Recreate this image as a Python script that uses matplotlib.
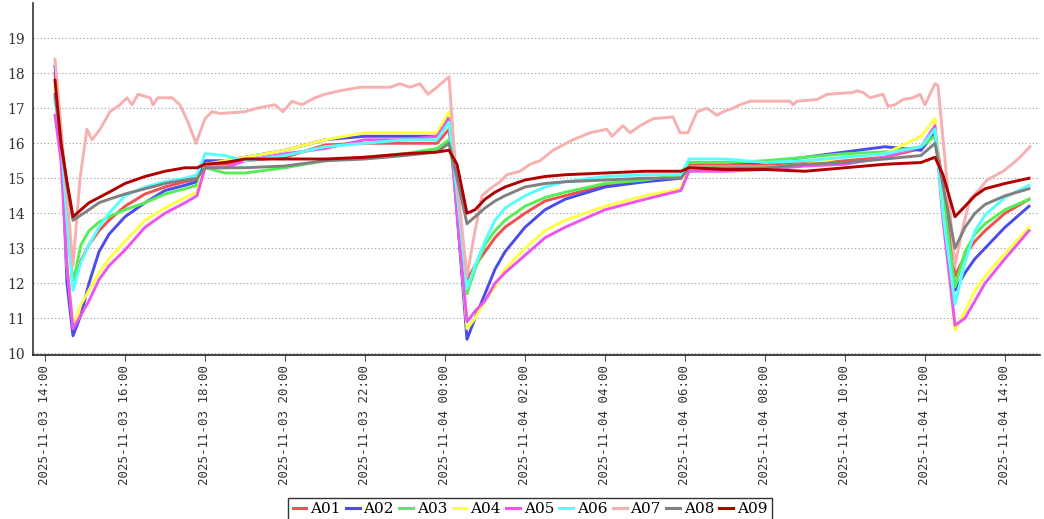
import matplotlib
matplotlib.use('Agg')
import matplotlib.pyplot as plt
import matplotlib.dates as mdates
import pandas as pd

# 시간축 (2025-11-03 14:00 기준, 시간 단위)
start = pd.Timestamp('2025-11-03 14:00')
hours = [0.25, 0.4, 0.55, 0.7, 0.9, 1.1, 1.35, 1.6, 2.0, 2.5, 3.0, 3.5, 3.8, 4.0,
         4.5, 5.0, 6.0, 7.0, 8.0, 9.0, 9.8, 10.1, 10.3, 10.55,
         10.75, 11.0, 11.25, 11.5, 12.0, 12.5, 13.0, 14.0, 15.0, 15.9, 16.1,
         17.0, 18.0, 19.0, 20.0, 21.0, 21.9, 22.25, 22.45, 22.75,
         23.0, 23.25, 23.5, 24.0, 24.6]

A01 = [18.0, 16.0, 13.8, 11.9, 12.65, 13.1, 13.5, 13.8, 14.2, 14.55, 14.75, 14.9, 14.97, 15.4,
       15.4, 15.5, 15.6, 15.95, 16.0, 16.0, 16.0, 16.4, 14.5, 12.1,
       12.5, 12.9, 13.3, 13.6, 14.0, 14.35, 14.5, 14.8, 14.95, 15.05, 15.4,
       15.4, 15.4, 15.45, 15.5, 15.6, 15.85, 16.3, 14.8, 12.2,
       12.8, 13.2, 13.5, 14.0, 14.4]
A02 = [18.2, 16.3, 12.0, 10.5, 11.1, 12.0, 12.9, 13.4, 13.9, 14.3, 14.65, 14.8, 14.9, 15.5,
       15.5, 15.6, 15.8, 16.1, 16.2, 16.2, 16.2, 16.8, 14.0, 10.4,
       11.0, 11.7, 12.4, 12.9, 13.6, 14.1, 14.4, 14.75, 14.9, 15.0, 15.45,
       15.45, 15.45, 15.6, 15.75, 15.9, 15.8, 16.3, 14.5, 11.8,
       12.3, 12.7, 13.0, 13.6, 14.2]
A03 = [17.3, 16.2, 14.0, 12.0, 13.1, 13.5, 13.75, 13.9, 14.1, 14.3, 14.55, 14.7, 14.8, 15.3,
       15.15, 15.15, 15.3, 15.5, 15.6, 15.7, 15.85, 16.1, 14.5, 11.7,
       12.4, 13.1, 13.5, 13.8, 14.2, 14.45, 14.6, 14.85, 14.95, 15.1, 15.45,
       15.45, 15.5, 15.6, 15.7, 15.75, 15.9, 16.2, 14.5, 11.9,
       12.9, 13.4, 13.7, 14.1, 14.4]
A04 = [17.6, 16.0, 12.5, 10.8, 11.4, 11.8, 12.3, 12.7, 13.2, 13.8, 14.15, 14.45, 14.6, 15.4,
       15.5, 15.6, 15.8, 16.1, 16.3, 16.3, 16.3, 16.9, 14.2, 10.7,
       11.0, 11.5, 11.9, 12.4, 13.0, 13.5, 13.8, 14.2, 14.5, 14.7, 15.3,
       15.3, 15.3, 15.4, 15.6, 15.7, 16.2, 16.7, 14.0, 10.65,
       11.2, 11.8, 12.2, 12.85, 13.6]
A05 = [16.8, 15.5, 12.5, 10.7, 11.1, 11.5, 12.1, 12.5, 12.95, 13.6, 14.0, 14.3, 14.5, 15.3,
       15.3, 15.5, 15.7, 15.85, 16.1, 16.1, 16.2, 16.7, 14.0, 10.9,
       11.2, 11.5, 12.0, 12.3, 12.8, 13.3, 13.6, 14.1, 14.4, 14.65, 15.2,
       15.2, 15.25, 15.35, 15.4, 15.6, 15.9, 16.5, 13.8, 10.8,
       11.0, 11.5, 12.0, 12.7, 13.5]
A06 = [17.2, 16.2, 13.8, 11.8, 12.6, 13.1, 13.6, 14.0, 14.5, 14.75, 14.9, 15.0, 15.1, 15.7,
       15.65, 15.5, 15.65, 15.9, 16.0, 16.1, 16.1, 16.6, 14.6, 11.85,
       12.5, 13.2, 13.8, 14.15, 14.5, 14.75, 14.9, 15.05, 15.1, 15.1, 15.55,
       15.55, 15.45, 15.5, 15.6, 15.7, 15.9, 16.4, 14.0, 11.4,
       12.6, 13.5, 13.95, 14.45, 14.8]
A08 = [17.4, 16.0, 14.8, 13.8, 13.95, 14.1, 14.3, 14.4, 14.55, 14.7, 14.85, 14.95, 15.0, 15.3,
       15.3, 15.3, 15.35, 15.5, 15.55, 15.65, 15.75, 16.0, 15.0, 13.7,
       13.9, 14.15, 14.35, 14.5, 14.75, 14.85, 14.9, 14.95, 15.0, 15.0, 15.3,
       15.3, 15.3, 15.4, 15.45, 15.55, 15.65, 16.0, 14.8, 13.0,
       13.6, 14.0, 14.25, 14.5, 14.7]
A09 = [17.8, 16.0, 14.9, 13.9, 14.1, 14.3, 14.45, 14.6, 14.85, 15.05, 15.2, 15.3, 15.3, 15.4,
       15.45, 15.55, 15.55, 15.55, 15.6, 15.7, 15.75, 15.8, 15.4, 14.0,
       14.1, 14.4, 14.6, 14.75, 14.95, 15.05, 15.1, 15.15, 15.2, 15.2, 15.3,
       15.25, 15.25, 15.2, 15.3, 15.4, 15.45, 15.6, 15.1, 13.9,
       14.2, 14.5, 14.7, 14.85, 15.0]

# A07은 변동이 많아서 따로
hours_A07 = [0.25, 0.475, 0.7, 0.875, 1.05, 1.175, 1.375, 1.625, 1.875, 2.05, 2.175, 2.325,
             2.625, 2.7, 2.825, 3.175, 3.375, 3.575, 3.775, 4.0, 4.175, 4.375, 5.0, 5.3,
             5.75, 5.95, 6.175, 6.425, 6.75, 7.0, 7.375, 7.875, 8.625, 8.875, 9.125, 9.375,
             9.575, 9.8, 10.1, 10.25, 10.55, 10.75, 10.925, 11.125, 11.375, 11.55, 11.875,
             12.125, 12.375, 12.7, 13.2, 13.625, 14.05, 14.175, 14.45, 14.625, 14.875, 15.2,
             15.7, 15.875, 16.075, 16.3, 16.55, 16.8, 16.95, 17.2, 17.375, 17.625, 18.625,
             18.7, 18.8, 19.3, 19.55, 20.2, 20.3, 20.45, 20.625, 20.95, 21.075, 21.25, 21.45,
             21.7, 21.875, 22.0, 22.25, 22.325, 22.75, 22.925, 23.125, 23.375, 23.55, 23.95,
             24.175, 24.375, 24.625]
A07 = [18.4, 15.5, 12.5, 15.0, 16.4, 16.1, 16.4, 16.9, 17.1, 17.3, 17.1, 17.4,
       17.3, 17.1, 17.3, 17.3, 17.1, 16.6, 16.0, 16.7, 16.9, 16.85, 16.9, 17.0,
       17.1, 16.9, 17.2, 17.1, 17.3, 17.4, 17.5, 17.6, 17.6, 17.7, 17.6, 17.7,
       17.4, 17.6, 17.9, 15.5, 12.2, 13.5, 14.5, 14.7, 14.9, 15.1, 15.2,
       15.4, 15.5, 15.8, 16.1, 16.3, 16.4, 16.2, 16.5, 16.3, 16.5, 16.7,
       16.75, 16.3, 16.3, 16.9, 17.0, 16.8, 16.9, 17.0, 17.1, 17.2, 17.2,
       17.1, 17.2, 17.25, 17.4, 17.45, 17.5, 17.45, 17.3, 17.4, 17.05, 17.1, 17.25,
       17.3, 17.4, 17.1, 17.7, 17.65, 12.5, 13.5, 14.4, 14.7, 14.95, 15.2,
       15.4, 15.6, 15.9]

names = ['A01', 'A02', 'A03', 'A04', 'A05', 'A06', 'A07', 'A08', 'A09']
colors = ['#f05050', '#4b4bef', '#55ee55', '#ffff44', '#ee55ee', '#55ffff', '#f7b0b0', '#808080', '#b00000']

t = start + pd.to_timedelta(hours, unit='h')
t7 = start + pd.to_timedelta(hours_A07, unit='h')
series = [A01, A02, A03, A04, A05, A06, A07, A08, A09]

fig = plt.figure(figsize=(10.44, 5.19), dpi=100)
ax = fig.add_axes([33/1044, 1-355/519, 1007/1044, 351.75/519])

lines = []
for name, c, y in zip(names, colors, series):
    x = t7 if name == 'A07' else t
    ln, = ax.plot(x, y, color=c, lw=2.1, label=name)
    lines.append(ln)

ax.set_ylim(9.95, 20)
ax.set_yticks(range(10, 20))
ax.set_xlim(start - pd.Timedelta(hours=0.3), start + pd.Timedelta(hours=24.875))
ax.xaxis.set_major_locator(mdates.HourLocator(byhour=range(0, 24, 2)))
ax.xaxis.set_major_formatter(mdates.DateFormatter('%Y-%m-%d %H:%M'))
ax.grid(axis='y', color='#aaaaaa', linestyle=(0, (1.2, 2.0)), lw=0.8)
ax.set_axisbelow(True)

for s in ['top', 'right']:
    ax.spines[s].set_visible(False)
ax.spines['left'].set_color('#333333')
ax.spines['bottom'].set_color('#222222')
ax.spines['left'].set_linewidth(1.2)
ax.spines['bottom'].set_linewidth(1.2)

ax.tick_params(axis='y', length=0, pad=6, labelsize=10, labelcolor='#333333')
ax.tick_params(axis='x', length=4, color='#555555', pad=3)
for lb in ax.get_yticklabels():
    lb.set_family('DejaVu Serif')
for lb in ax.get_xticklabels():
    lb.set_family('DejaVu Sans Mono')
    lb.set_fontsize(9)
    lb.set_rotation(90)
    lb.set_color('#333333')

leg = fig.legend(lines, names, loc='upper center', bbox_to_anchor=(530/1044, 1-490/519),
                 ncol=9, prop={'family': 'DejaVu Serif', 'size': 11},
                 handlelength=0.9, handletextpad=0.25, columnspacing=0.35,
                 borderpad=0.3, fancybox=False, edgecolor='#333333', framealpha=1)
leg.get_frame().set_linewidth(1.0)
for h in leg.get_lines():
    h.set_linewidth(2.2)

fig.savefig('out.png', dpi=100)
